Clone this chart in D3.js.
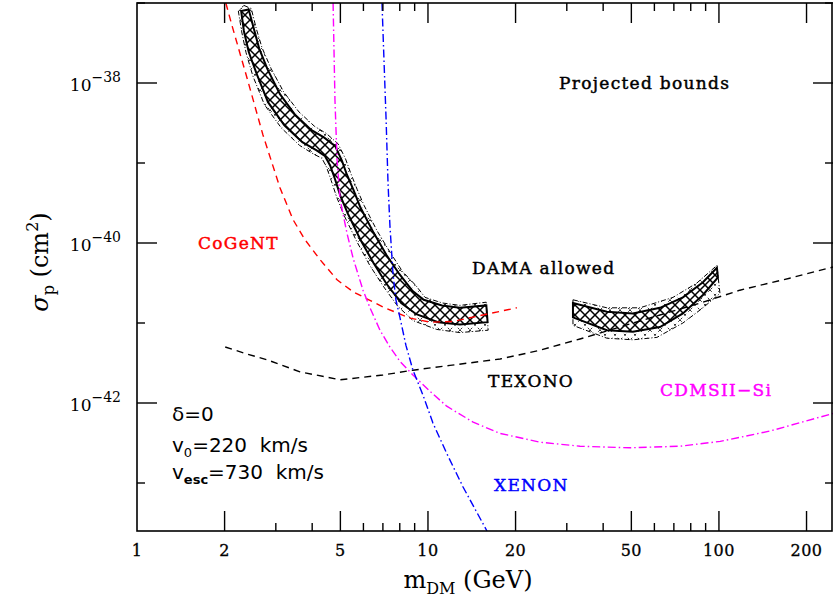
<!DOCTYPE html>
<html><head><meta charset="utf-8">
<script src="https://cdn.jsdelivr.net/npm/d3@7"></script>
<style>body{margin:0;background:#fff} svg{display:block} text{white-space:pre}</style>
</head><body>
<svg id="c" width="833" height="598"></svg>
<script>
// ---------- tick data ----------
const xTickMajor = [1, 2, 5, 10, 20, 50, 100, 200];
const xTickMinor = [3, 4, 6, 7, 8, 9, 30, 40, 60, 70, 80, 90];
const yTickMajorExp = [-38, -40, -42];
const yTickMinorExp = [-37, -39, -41, -43];

// ---------- curves (mass in GeV, log10 of sigma_p in cm^2) ----------
const cogentMass = [2.02, 2.12, 2.39, 2.71, 3.10, 3.44, 3.78, 4.26, 4.87, 5.53, 7.00, 8.68, 10.2, 12.2, 15.9, 20.2];
const cogentLogSigma = [-37.0, -37.28, -37.94, -38.65, -39.31, -39.71, -39.96, -40.21, -40.46, -40.61, -40.80, -40.94, -40.99, -40.98, -40.89, -40.81];

const cdmsMass = [4.72, 4.79, 4.87, 4.99, 5.27, 5.53, 5.98, 6.32, 6.84, 7.40, 8.01, 8.88, 10.2, 11.6, 14.3, 17.7, 24.3, 33.3, 49.5, 73.5, 101, 150, 247];
const cdmsLogSigma = [-37.0, -38.21, -38.96, -39.46, -39.88, -40.19, -40.59, -40.81, -41.09, -41.30, -41.48, -41.65, -41.86, -42.04, -42.24, -42.38, -42.49, -42.54, -42.56, -42.54, -42.48, -42.35, -42.13];

const xenonMass = [6.95, 7.06, 7.18, 7.29, 7.40, 7.58, 7.76, 8.01, 8.40, 8.88, 9.61, 10.4, 11.6, 13.2, 15.95];
const xenonLogSigma = [-37.0, -37.71, -38.46, -39.25, -39.78, -40.38, -40.71, -40.93, -41.28, -41.59, -41.90, -42.25, -42.63, -43.05, -43.6];

const texonoMass = [2.01, 2.35, 2.80, 3.63, 4.99, 7.00, 8.88, 11.9, 17.7, 24.3, 33.3, 45.7, 62.7, 88.1, 118, 175, 247];
const texonoLogSigma = [-41.30, -41.38, -41.46, -41.61, -41.71, -41.65, -41.59, -41.53, -41.45, -41.34, -41.20, -41.05, -40.90, -40.74, -40.59, -40.44, -40.30];

// ---------- DAMA allowed regions (closed contours) ----------
const damaLowInnerMass = [2.42, 2.52, 2.63, 2.81, 3.10, 3.50, 3.98, 4.39, 4.80, 5.06, 5.27, 5.55, 5.85, 6.50, 7.20, 7.98, 8.86, 9.67, 11.17, 12.88, 15.87,
  16.03, 12.88, 10.83, 9.12, 8.09, 7.20, 6.50, 5.86, 5.30, 5.00, 4.79, 4.61, 4.42, 4.13, 3.70, 3.21, 2.82, 2.58, 2.42, 2.33, 2.28];
const damaLowInnerLogSigma = [-37.08, -37.32, -37.57, -37.83, -38.14, -38.40, -38.59, -38.68, -38.79, -38.97, -39.15, -39.34, -39.55, -39.87, -40.15, -40.39, -40.60, -40.71, -40.78, -40.81, -40.78,
  -40.99, -41.02, -40.99, -40.89, -40.75, -40.51, -40.25, -39.96, -39.63, -39.41, -39.20, -39.03, -38.91, -38.84, -38.74, -38.53, -38.24, -37.89, -37.61, -37.35, -37.10];

const damaLowOuterMass = [2.33, 2.47, 2.57, 2.69, 2.89, 3.19, 3.60, 4.07, 4.47, 4.91, 5.21, 5.43, 5.71, 6.03, 6.69, 7.42, 8.19, 9.08, 9.77, 11.21, 12.88, 15.85,
  16.1, 12.88, 10.70, 8.89, 7.87, 7.02, 6.31, 5.69, 5.14, 4.86, 4.65, 4.48, 4.32, 4.05, 3.62, 3.13, 2.74, 2.50, 2.37, 2.29, 2.23];
const damaLowOuterLogSigma = [-37.03, -37.07, -37.32, -37.56, -37.82, -38.11, -38.36, -38.54, -38.63, -38.76, -38.95, -39.13, -39.33, -39.53, -39.85, -40.12, -40.36, -40.53, -40.68, -40.75, -40.78, -40.74,
  -41.09, -41.12, -41.08, -40.97, -40.79, -40.54, -40.28, -39.98, -39.65, -39.43, -39.22, -39.05, -38.94, -38.89, -38.78, -38.56, -38.27, -37.91, -37.62, -37.36, -37.10];

const damaHighInnerMass = [31.5, 41.2, 50.6, 62.7, 75.2, 88.1, 98.4, 99.2, 88.1, 75.2, 62.7, 50.6, 41.2, 31.5];
const damaHighInnerLogSigma = [-40.75, -40.86, -40.88, -40.81, -40.68, -40.49, -40.31, -40.43, -40.65, -40.88, -41.05, -41.11, -41.09, -40.93];

const damaHighOuterMass = [31.5, 41.2, 53.5, 69.5, 84.0, 98.4, 100.8, 88.1, 75.2, 61.2, 50.6, 41.2, 31.5];
const damaHighOuterLogSigma = [-40.71, -40.81, -40.81, -40.68, -40.50, -40.28, -40.63, -40.81, -41.00, -41.18, -41.21, -41.19, -41.03];

// ---------- chart ----------
const svg = d3.select('#c');
const L = 137, R = 833, T = 3, B = 531;
const x = d3.scaleLog().domain([1, 246.6]).range([L, R]);
const y = d3.scaleLog().domain([Math.pow(10, -43.6), 1e-37]).range([B, T]);
const SERIF = "'DejaVu Serif', serif";
const SANS = "'DejaVu Sans', sans-serif";

const defs = svg.append('defs');
defs.append('clipPath').attr('id', 'plot').append('rect')
  .attr('x', L).attr('y', T).attr('width', R - L).attr('height', B - T);
const pIn = defs.append('pattern').attr('id', 'hatchIn').attr('patternUnits', 'userSpaceOnUse')
  .attr('width', 10).attr('height', 10);
pIn.append('rect').attr('width', 10).attr('height', 10).attr('fill', '#fff');
pIn.append('path').attr('d', 'M0,0L10,10M10,0L0,10M-1,9L1,11M9,-1L11,1').attr('stroke', '#000').attr('stroke-width', 1.5);
const pOut = defs.append('pattern').attr('id', 'hatchOut').attr('patternUnits', 'userSpaceOnUse')
  .attr('width', 10).attr('height', 10);
pOut.append('rect').attr('width', 10).attr('height', 10).attr('fill', '#fff');
pOut.append('path').attr('d', 'M0,0L10,10M10,0L0,10').attr('stroke', '#000').attr('stroke-width', 0.8)
  .attr('stroke-dasharray', '2.5,3');

const g = svg.append('g').attr('clip-path', 'url(#plot)');
const pts = (ms, ls) => ms.map((m, i) => [x(m), y(Math.pow(10, ls[i]))]);
const line = d3.line();
const closed = d3.line().curve(d3.curveLinearClosed);

function band(oM, oL, iM, iL) {
  g.append('path').attr('d', closed(pts(oM, oL))).attr('fill', 'url(#hatchOut)')
    .attr('stroke', '#000').attr('stroke-width', 1).attr('stroke-dasharray', '5,2,1,2');
  g.append('path').attr('d', closed(pts(iM, iL))).attr('fill', 'url(#hatchIn)')
    .attr('stroke', '#000').attr('stroke-width', 2);
}
band(damaLowOuterMass, damaLowOuterLogSigma, damaLowInnerMass, damaLowInnerLogSigma);
band(damaHighOuterMass, damaHighOuterLogSigma, damaHighInnerMass, damaHighInnerLogSigma);

function curve(ms, ls, color, dash) {
  g.append('path').attr('d', line(pts(ms, ls))).attr('fill', 'none')
    .attr('stroke', color).attr('stroke-width', 1.4).attr('stroke-dasharray', dash);
}
curve(texonoMass, texonoLogSigma, '#000', '7,5');
curve(cogentMass, cogentLogSigma, '#ff0000', '7,5');
curve(cdmsMass, cdmsLogSigma, '#ff00ff', '8,3,1.5,3');
curve(xenonMass, xenonLogSigma, '#0000ff', '8,3,1.5,3');

// frame
svg.append('rect').attr('x', L).attr('y', T).attr('width', R - L - 1).attr('height', B - T)
  .attr('fill', 'none').attr('stroke', '#000').attr('stroke-width', 1.6);

// ticks
const ax = svg.append('g').attr('stroke', '#000').attr('stroke-width', 1.4);
const tickX = (vals, len) => vals.forEach(v => {
  ax.append('line').attr('x1', x(v)).attr('x2', x(v)).attr('y1', B).attr('y2', B - len);
  ax.append('line').attr('x1', x(v)).attr('x2', x(v)).attr('y1', T).attr('y2', T + len);
});
tickX(xTickMajor.filter(v => v > 1), 20);
tickX(xTickMinor, 8);
const tickY = (exps, len) => exps.forEach(e => {
  const yy = y(Math.pow(10, e));
  ax.append('line').attr('x1', L).attr('x2', L + len).attr('y1', yy).attr('y2', yy);
  ax.append('line').attr('x1', R).attr('x2', R - len).attr('y1', yy).attr('y2', yy);
});
tickY(yTickMajorExp, 20);
tickY(yTickMinorExp, 8);

// tick labels
svg.append('g').selectAll('text').data(xTickMajor).join('text')
  .attr('x', d => x(d)).attr('y', 556).attr('text-anchor', 'middle')
  .attr('font-family', SERIF).attr('font-size', 16).attr('letter-spacing', 0.5)
  .attr('stroke', '#000').attr('stroke-width', 0.3).text(d => d);
yTickMajorExp.forEach(e => {
  const t = svg.append('text').attr('x', 121).attr('y', y(Math.pow(10, e)) + 8)
    .attr('text-anchor', 'end').attr('font-family', SERIF).attr('font-size', 17);
  t.append('tspan').text('10');
  t.append('tspan').attr('dy', -9).attr('font-size', 14).text('\u2212' + Math.abs(e));
});

// axis titles
const xt = svg.append('text').attr('x', 468).attr('y', 588).attr('text-anchor', 'middle')
  .attr('font-family', SERIF).attr('font-size', 24);
xt.append('tspan').text('m');
xt.append('tspan').attr('dy', 6).attr('font-size', 16).text('DM');
xt.append('tspan').attr('dy', -6).text(' (GeV)');

const yt = svg.append('text').attr('transform', 'translate(48,262) rotate(-90)').attr('text-anchor', 'middle')
  .attr('font-family', SERIF).attr('font-size', 24);
yt.append('tspan').attr('font-style', 'italic').text('\u03c3');
yt.append('tspan').attr('dy', 6).attr('font-size', 16).text('p');
yt.append('tspan').attr('dy', -6).text(' (cm');
yt.append('tspan').attr('dy', -10).attr('font-size', 16).text('2');
yt.append('tspan').attr('dy', 10).text(')');

// annotations
const lab = (tx, ty, s, c) => svg.append('text').attr('x', tx).attr('y', ty)
  .attr('font-family', SERIF).attr('font-size', 17)
  .attr('letter-spacing', 1.3).attr('fill', c).attr('stroke', c).attr('stroke-width', 0.45).text(s);
lab(559, 89, 'Projected bounds', '#000');
lab(198, 249, 'CoGeNT', '#ff0000');
lab(472, 274, 'DAMA allowed', '#000');
lab(488, 387, 'TEXONO', '#000');
lab(660, 396, 'CDMSII\u2212Si', '#ff00ff');
lab(494, 491, 'XENON', '#0000ff');

const par = svg.append('g').attr('font-family', SANS).attr('font-size', 20);
par.append('text').attr('x', 172).attr('y', 421).text('\u03b4=0');
const p2 = par.append('text').attr('x', 172).attr('y', 452);
p2.append('tspan').text('v');
p2.append('tspan').attr('dy', 5).attr('font-size', 13).text('0');
p2.append('tspan').attr('dy', -5).text('=220  km/s');
const p3 = par.append('text').attr('x', 172).attr('y', 479);
p3.append('tspan').text('v');
p3.append('tspan').attr('dy', 5).attr('font-size', 13).attr('font-weight', 'bold').text('esc');
p3.append('tspan').attr('dy', -5).text('=730  km/s');
</script>
</body></html>
